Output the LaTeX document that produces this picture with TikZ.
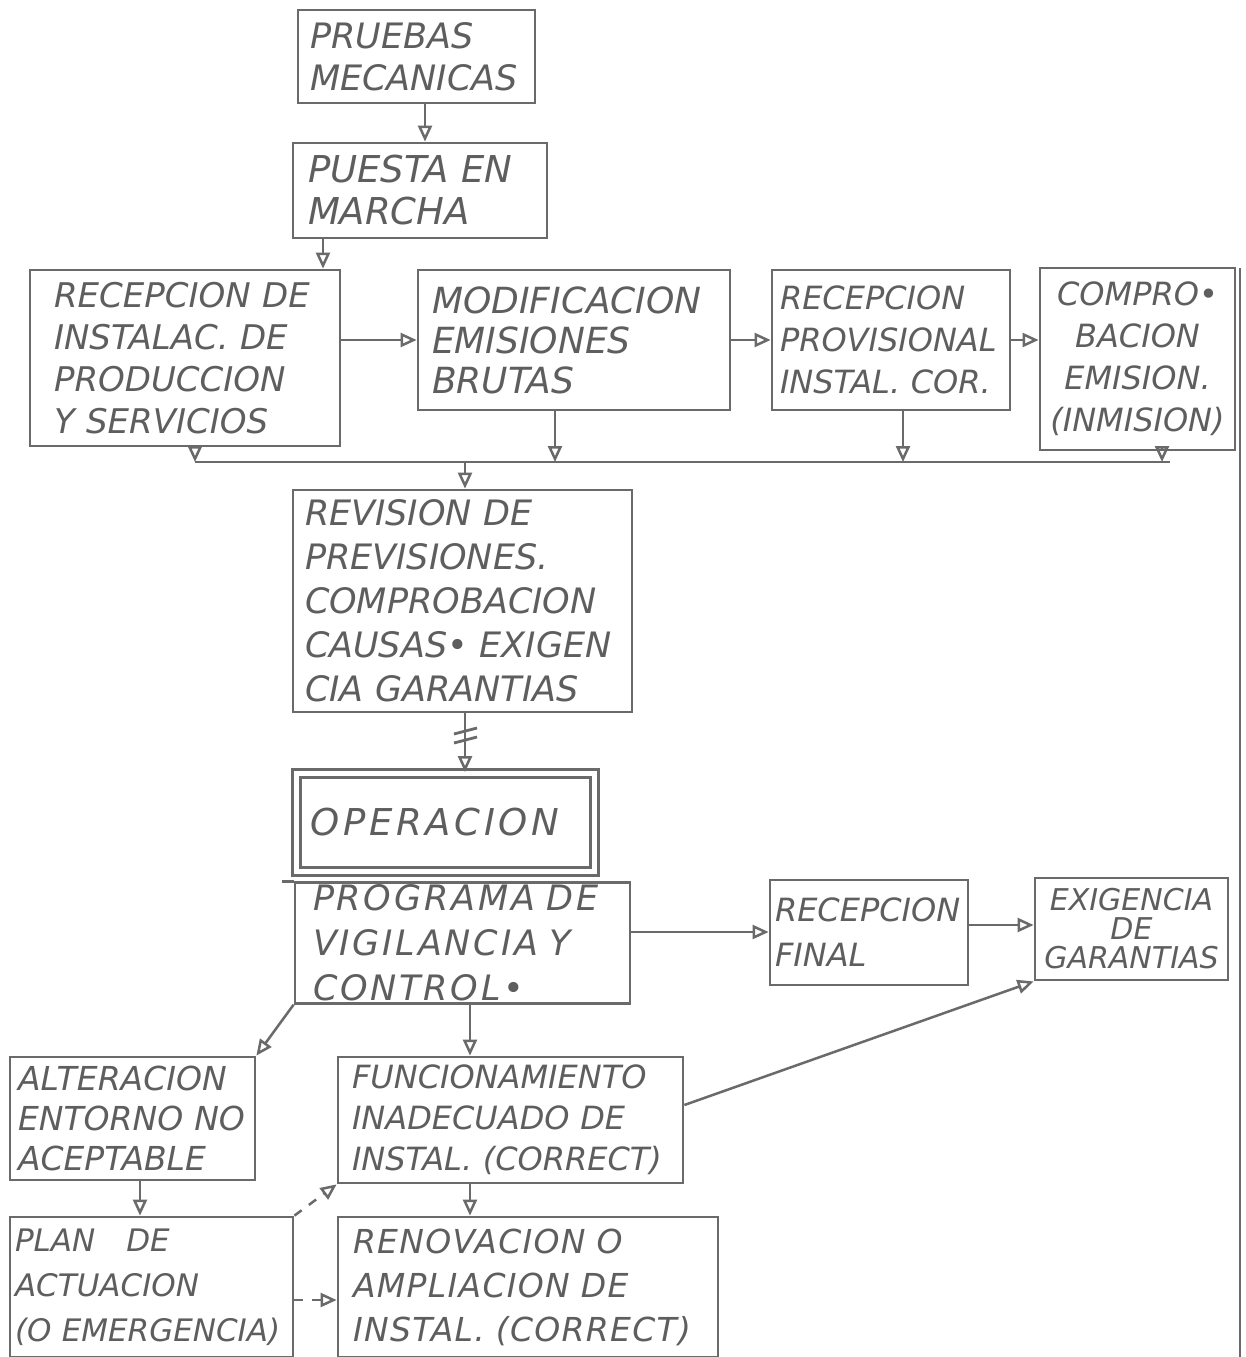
\documentclass[tikz,border=0pt]{standalone}
\usepackage{fontspec}
\setmainfont{DejaVu Sans}
\usetikzlibrary{arrows.meta,calc}
\definecolor{lc}{HTML}{6A6A6A}
\definecolor{tc}{HTML}{5E5E5E}
\newcommand\fsz[2]{\itshape\fontsize{#1}{#2}\selectfont}
\tikzset{
  ln/.style={draw=lc, line width=2.8pt},
  box/.style={ln, rectangle, text=tc, align=left, inner ysep=2pt},
  arr/.style={draw=lc, line width=2.5pt, -{Triangle[open,length=16pt,width=14pt]}},
  dsh/.style={arr, dash pattern=on 9pt off 9pt},
}
\begin{document}
\begin{tikzpicture}[x=1pt,y=-1pt]
\useasboundingbox[fill=white] (0,0) rectangle (1246,1357);

% boxes
\node[box, minimum width=237, minimum height=93, inner xsep=12, text width=213, font={\fsz{35}{42}}] (pru) at (416.5,56.5) {PRUEBAS\\MECANICAS};
\node[box, minimum width=254, minimum height=95, inner xsep=15, text width=224, font={\fsz{37}{42}}] (pue) at (420,190.5) {PUESTA EN\\MARCHA};
\node[box, minimum width=310, minimum height=176, inner xsep=24, text width=262, font={\fsz{34}{42}}] (rec) at (185,358) {RECEPCION DE\\INSTALAC. DE\\PRODUCCION\\Y SERVICIOS};
\node[box, minimum width=312, minimum height=140, inner xsep=14, text width=284, font={\fsz{36}{40}}] (mod) at (574,340) {MODIFICACION\\EMISIONES\\BRUTAS};
\node[box, minimum width=238, minimum height=140, inner xsep=8, text width=222, font={\fsz{32}{42}}] (prov) at (891,340) {RECEPCION\\PROVISIONAL\\INSTAL. COR.};
\node[box, align=center, minimum width=195, minimum height=182, inner xsep=6, text width=183, font={\fsz{32}{42}}] (comp) at (1137.5,359) {COMPRO•\\BACION\\EMISION.\\(INMISION)};
\node[box, minimum width=339, minimum height=222, inner xsep=12, text width=315, font={\fsz{35}{44}}] (rev) at (462.5,601) {REVISION DE\\PREVISIONES.\\COMPROBACION\\CAUSAS• EXIGEN\\CIA GARANTIAS};
\node[box, double, double distance=5pt, minimum width=298, minimum height=98, inner xsep=14, text width=270, font={\fsz{37}{42}\addfontfeatures{LetterSpace=10}}] (ope) at (445.5,822.5) {OPERACION};
\node[box, minimum width=335, minimum height=120, inner xsep=18, text width=299, font={\fsz{35}{45}\addfontfeatures{LetterSpace=8}}] (prog) at (462.5,943) {PROGRAMA DE\\VIGILANCIA Y\\CONTROL•};
\node[box, minimum width=198, minimum height=105, inner xsep=5, text width=188, font={\fsz{32}{45}}] (fin) at (869,932.5) {RECEPCION\\FINAL};
\node[box, align=center, minimum width=193, minimum height=102, inner xsep=3, text width=187, font={\fsz{30}{29}}] (exi) at (1131.5,929) {EXIGENCIA\\DE\\GARANTIAS};
\node[box, minimum width=245, minimum height=123, inner xsep=8, text width=229, font={\fsz{33}{40}}] (alt) at (132.5,1118.5) {ALTERACION\\ENTORNO NO\\ACEPTABLE};
\node[box, minimum width=345, minimum height=126, inner xsep=14, text width=317, font={\fsz{32}{41}}] (fun) at (510.5,1120) {FUNCIONAMIENTO\\INADECUADO DE\\INSTAL. (CORRECT)};
\node[box, minimum width=283, minimum height=140, inner xsep=5, text width=273, font={\fsz{31}{45}}] (plan) at (151.5,1287) {PLAN~~~DE\\ACTUACION\\(O EMERGENCIA)};
\node[box, minimum width=380, minimum height=140, inner xsep=15, text width=350, font={\fsz{33}{44}\addfontfeatures{LetterSpace=4}}] (ren) at (528,1287) {RENOVACION O\\AMPLIACION DE\\INSTAL. (CORRECT)};

% helper coordinates
\coordinate (xa) at (425,0);
\coordinate (xb) at (323,0);
\coordinate (xd) at (555,0);
\coordinate (xe) at (903,0);
\coordinate (xf) at (1162,0);
\coordinate (xg) at (465,0);
\coordinate (xh) at (470,0);
\coordinate (xi) at (140,0);
\coordinate (ya) at (0,340);
\coordinate (yb) at (0,932);
\coordinate (yc) at (0,925);
\coordinate (yd) at (0,1300);
\coordinate (busL) at (195,462);
\coordinate (busR) at (1170,462);
\coordinate (mk) at (465,736);
\coordinate (edT) at (1240,268);
\coordinate (edB) at (1240,1357);

% connectors
\draw[arr] (pru.south -| xa) -- (pue.north -| xa);
\draw[arr] (pue.south -| xb) -- (rec.north -| xb);
\draw[arr] (rec.east |- ya) -- (mod.west |- ya);
\draw[arr] (mod.east |- ya) -- (prov.west |- ya);
\draw[arr] (prov.east |- ya) -- (comp.west |- ya);
\draw[ln] (busL) -- (busR);
\draw[arr] (rec.south -| busL) -- (busL);
\draw[arr] (mod.south -| xd) -- (busL -| xd);
\draw[arr] (prov.south -| xe) -- (busL -| xe);
\draw[arr] (comp.south -| xf) -- (busL -| xf);
\draw[arr] (busL -| xg) -- (rev.north -| xg);
\draw[arr] (rev.south -| xg) -- (ope.north -| xg);
\draw[ln] ($(mk)+(-11,-2)$) -- ($(mk)+(12,-8)$);
\draw[ln] ($(mk)+(-11,7)$) -- ($(mk)+(12,1)$);
\draw[ln] (prog.north west) -- ++(-12,0);
\draw[arr] (prog.east |- yb) -- (fin.west |- yb);
\draw[arr] (fin.east |- yc) -- (exi.west |- yc);
\draw[arr] (prog.south west) -- (alt.north east);
\draw[arr] (prog.south -| xh) -- (fun.north -| xh);
\draw[arr] ([yshift=15pt]fun.east) -- (exi.south west);
\draw[arr] (alt.south -| xi) -- (plan.north -| xi);
\draw[arr] (fun.south -| xh) -- (ren.north -| xh);
\draw[dsh] (plan.east |- yd) -- (ren.west |- yd);
\draw[dsh] (plan.north east) -- (fun.south west);
\draw[draw=lc, line width=2pt] (edT) -- (edB);
\end{tikzpicture}
\end{document}
